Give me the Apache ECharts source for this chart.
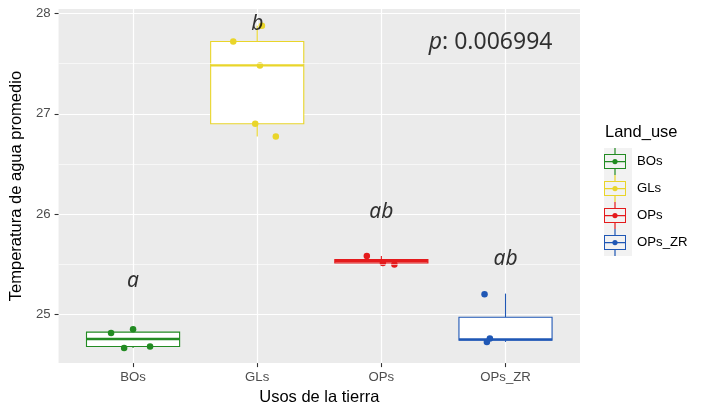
<!DOCTYPE html>
<html>
<head>
<meta charset="utf-8">
<script src="https://cdn.jsdelivr.net/npm/echarts@6/dist/echarts.min.js"></script>
<style>html,body{margin:0;padding:0;background:#fff}#c{width:703px;height:411px}</style>
</head>
<body>
<div id="c"></div>
<script>
// ---- data ----
const categories = ['BOs', 'GLs', 'OPs', 'OPs_ZR'];
const boxMin    = [24.669, 26.775, 25.499, 24.729];
const boxQ1     = [24.683, 26.901, 25.515, 24.745];
const boxMedian = [24.758, 27.481, 25.532, 24.755];
const boxQ3     = [24.826, 27.719, 25.550, 24.975];
const boxMax    = [24.855, 27.877, 25.584, 25.210];
const pointJitter = [
  [-0.177, 0.000, -0.072, 0.137],
  [-0.193, 0.022, -0.016, 0.150, 0.038],
  [-0.117, 0.012, 0.105],
  [-0.169, -0.126, -0.150]
];
const pointValues = [
  [24.818, 24.855, 24.669, 24.683],
  [27.719, 27.481, 26.901, 26.775, 27.877],
  [25.584, 25.515, 25.499],
  [25.204, 24.762, 24.729]
];
const groupLetters = ['a', 'b', 'ab', 'ab'];
const letterY = [25.333, 27.890, 26.026, 25.550];
const pText = '0.006994';
const pPos = [3.88, 27.71];
const yTicks = [25, 26, 27, 28];
const yMinor = [25.5, 26.5, 27.5];
const xTicks = [1, 2, 3, 4];
const colors = ['#228B22', '#E9D52A', '#E41A1C', '#1F57B5'];

// ---- chart ----
const FONT = "'Liberation Sans', Arial, sans-serif";
const chart = echarts.init(document.getElementById('c'), null, {renderer: 'canvas'});

const keyIcon = 'path://' +
  'M0,6 L22,6 L22,21 L0,21 Z ' +
  'M1,7 L1,20 L21,20 L21,7 Z ' +
  'M1,13 L8.6,13 L8.6,14.2 L1,14.2 Z ' +
  'M13.4,13 L21,13 L21,14.2 L13.4,14.2 Z ' +
  'M10.4,0 L11.6,0 L11.6,6 L10.4,6 Z ' +
  'M10.4,21 L11.6,21 L11.6,27 L10.4,27 Z ' +
  'M8.4,13.6 A2.6,2.6 0 1,1 13.6,13.6 A2.6,2.6 0 1,1 8.4,13.6 Z';

const series = [];
// minor grid lines
series.push({
  type: 'line', data: [], silent: true, z: 1,
  markLine: {
    silent: true, symbol: 'none', label: {show: false},
    lineStyle: {color: '#ffffff', width: 0.6, type: 'solid'},
    emphasis: {disabled: true},
    data: yMinor.map(v => ({yAxis: v}))
  }
});

categories.forEach((name, i) => {
  const color = colors[i];
  series.push({
    name: name,
    type: 'custom',
    z: 3,
    itemStyle: {color: color},
    encode: {x: 0, y: [1, 2, 3, 4, 5]},
    data: [[xTicks[i], boxMin[i], boxQ1[i], boxMedian[i], boxQ3[i], boxMax[i]]],
    renderItem: function (params, api) {
      const x = api.value(0), mn = api.value(1), q1 = api.value(2),
            md = api.value(3), q3 = api.value(4), mx = api.value(5);
      const hw = 0.375;
      const tl = api.coord([x - hw, q3]);
      const br = api.coord([x + hw, q1]);
      const wTop = api.coord([x, mx]), bTop = api.coord([x, q3]);
      const bBot = api.coord([x, q1]), wBot = api.coord([x, mn]);
      const m1 = api.coord([x - hw, md]), m2 = api.coord([x + hw, md]);
      return {
        type: 'group',
        children: [
          {type: 'line', shape: {x1: wTop[0], y1: wTop[1], x2: bTop[0], y2: bTop[1]},
           style: {stroke: color, lineWidth: 1.1}},
          {type: 'line', shape: {x1: bBot[0], y1: bBot[1], x2: wBot[0], y2: wBot[1]},
           style: {stroke: color, lineWidth: 1.1}},
          {type: 'rect', shape: {x: tl[0], y: tl[1], width: br[0] - tl[0], height: br[1] - tl[1]},
           style: {fill: '#ffffff', stroke: color, lineWidth: 1.1}},
          {type: 'line', shape: {x1: m1[0], y1: m1[1], x2: m2[0], y2: m2[1]},
           style: {stroke: color, lineWidth: 2.3}}
        ]
      };
    }
  });
  series.push({
    name: name,
    type: 'scatter',
    z: 4,
    symbol: 'circle',
    symbolSize: 6.5,
    itemStyle: {color: color, opacity: 1},
    silent: true,
    data: pointValues[i].map((v, k) => [xTicks[i] + pointJitter[i][k], v])
  });
});

// group letters
series.push({
  type: 'scatter', z: 5, silent: true,
  symbolSize: 0.01, itemStyle: {color: 'transparent'},
  data: letterY.map((v, i) => [xTicks[i], v]),
  label: {
    show: true, position: 'inside',
    formatter: p => groupLetters[p.dataIndex],
    fontFamily: "'Noto Sans', sans-serif", fontStyle: 'italic',
    fontSize: 21, color: '#000'
  }
});
// p value
series.push({
  type: 'scatter', z: 5, silent: true,
  symbolSize: 0.01, itemStyle: {color: 'transparent'},
  data: [pPos],
  label: {
    show: true, position: 'inside',
    formatter: '{i|p}{n|: ' + pText + '}',
    rich: {
      i: {fontFamily: "'Noto Sans', sans-serif", fontStyle: 'italic', fontSize: 23, color: '#000'},
      n: {fontFamily: "'Noto Sans', sans-serif", fontSize: 23, color: '#000'}
    }
  }
});

chart.setOption({
  animation: false,
  backgroundColor: '#ffffff',
  title: {
    text: 'Land_use', left: 605, top: 124, padding: 0,
    textStyle: {fontFamily: FONT, fontSize: 16.5, fontWeight: 'normal', color: '#000'}
  },
  graphic: [{
    type: 'rect', left: 604, top: 148, z: 0,
    shape: {width: 28, height: 108},
    style: {fill: '#F2F2F2'}
  }],
  legend: {
    orient: 'vertical', left: 604, top: 148, padding: 0,
    itemWidth: 28, itemHeight: 27, itemGap: 0,
    selectedMode: false,
    textStyle: {fontFamily: FONT, fontSize: 13.2, color: '#000', padding: [0, 0, 0, 3]},
    data: categories.map((n, i) => ({name: n, icon: keyIcon, itemStyle: {color: colors[i], opacity: 1}}))
  },
  grid: {
    left: 58, top: 9, right: 123, bottom: 46,
    show: true, backgroundColor: '#EBEBEB', borderWidth: 0
  },
  xAxis: {
    type: 'value', min: 0.4, max: 4.6,
    name: 'Usos de la tierra', nameLocation: 'middle', nameGap: 25,
    nameTextStyle: {fontFamily: FONT, fontSize: 16.5, color: '#000'},
    axisLine: {show: false},
    axisTick: {show: true, customValues: xTicks, length: 4, lineStyle: {color: '#333333', width: 1.1}},
    axisLabel: {
      customValues: xTicks, margin: 8,
      formatter: v => categories[Math.round(v) - 1],
      fontFamily: FONT, fontSize: 13.2, color: '#4D4D4D'
    },
    splitLine: {show: true, lineStyle: {color: '#ffffff', width: 1.2}}
  },
  yAxis: {
    type: 'value', min: 24.518, max: 28.043,
    name: 'Temperatura de agua promedio', nameLocation: 'middle', nameGap: 28,
    nameTextStyle: {fontFamily: FONT, fontSize: 16.5, color: '#000'},
    axisLine: {show: false},
    axisTick: {show: true, customValues: yTicks, length: 4, lineStyle: {color: '#333333', width: 1.1}},
    axisLabel: {
      customValues: yTicks, margin: 8,
      fontFamily: FONT, fontSize: 13.2, color: '#4D4D4D'
    },
    splitLine: {show: true, lineStyle: {color: '#ffffff', width: 1.2}}
  },
  series: series
});
</script>
</body>
</html>
